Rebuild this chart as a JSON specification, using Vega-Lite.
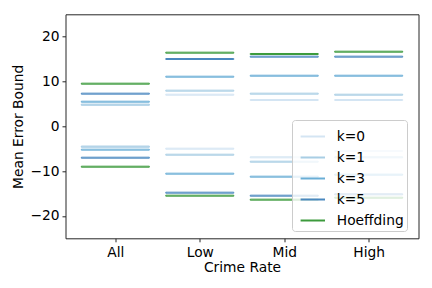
{
  "$schema": "https://vega.github.io/schema/vega-lite/v6.json",
  "width": 353,
  "height": 224,
  "autosize": {"type": "none"},
  "padding": {"left": 65.5, "top": 14.3, "right": 13.5, "bottom": 49.7},
  "config": {
    "font": "DejaVu Sans",
    "view": {"stroke": "#262626", "strokeWidth": 1},
    "axis": {
      "labelFont": "DejaVu Sans", "titleFont": "DejaVu Sans",
      "labelFontSize": 13.8, "titleFontSize": 13.8,
      "labelColor": "#000000", "titleColor": "#000000",
      "titleFontWeight": "normal",
      "tickColor": "#262626", "tickSize": 3.5, "tickWidth": 1,
      "domain": false, "grid": false
    }
  },
  "data": {
    "values": [
      {"cat": "All", "series": "k=0", "bound": "upper", "value": 4.82},
      {"cat": "All", "series": "k=0", "bound": "lower", "value": -4.55},
      {"cat": "Low", "series": "k=0", "bound": "upper", "value": 7.05},
      {"cat": "Low", "series": "k=0", "bound": "lower", "value": -5.0},
      {"cat": "Mid", "series": "k=0", "bound": "upper", "value": 5.87},
      {"cat": "Mid", "series": "k=0", "bound": "lower", "value": -6.92},
      {"cat": "High", "series": "k=0", "bound": "upper", "value": 5.87},
      {"cat": "High", "series": "k=0", "bound": "lower", "value": -5.51},
      {"cat": "All", "series": "k=1", "bound": "upper", "value": 4.82},
      {"cat": "All", "series": "k=1", "bound": "lower", "value": -4.55},
      {"cat": "Low", "series": "k=1", "bound": "upper", "value": 7.95},
      {"cat": "Low", "series": "k=1", "bound": "lower", "value": -6.34},
      {"cat": "Mid", "series": "k=1", "bound": "upper", "value": 7.28},
      {"cat": "Mid", "series": "k=1", "bound": "lower", "value": -7.9},
      {"cat": "High", "series": "k=1", "bound": "upper", "value": 7.05},
      {"cat": "High", "series": "k=1", "bound": "lower", "value": -6.92},
      {"cat": "All", "series": "k=3", "bound": "upper", "value": 5.49},
      {"cat": "All", "series": "k=3", "bound": "lower", "value": -5.22},
      {"cat": "Low", "series": "k=3", "bound": "upper", "value": 11.07},
      {"cat": "Low", "series": "k=3", "bound": "lower", "value": -10.58},
      {"cat": "Mid", "series": "k=3", "bound": "upper", "value": 11.29},
      {"cat": "Mid", "series": "k=3", "bound": "lower", "value": -11.25},
      {"cat": "High", "series": "k=3", "bound": "upper", "value": 11.29},
      {"cat": "High", "series": "k=3", "bound": "lower", "value": -10.8},
      {"cat": "All", "series": "k=5", "bound": "upper", "value": 7.28},
      {"cat": "All", "series": "k=5", "bound": "lower", "value": -7.01},
      {"cat": "Low", "series": "k=5", "bound": "upper", "value": 15.02},
      {"cat": "Low", "series": "k=5", "bound": "lower", "value": -14.82},
      {"cat": "Mid", "series": "k=5", "bound": "upper", "value": 15.54},
      {"cat": "Mid", "series": "k=5", "bound": "lower", "value": -15.49},
      {"cat": "High", "series": "k=5", "bound": "upper", "value": 15.54},
      {"cat": "High", "series": "k=5", "bound": "lower", "value": -15.18},
      {"cat": "All", "series": "Hoeffding", "bound": "upper", "value": 9.51},
      {"cat": "All", "series": "Hoeffding", "bound": "lower", "value": -9.02},
      {"cat": "Low", "series": "Hoeffding", "bound": "upper", "value": 16.43},
      {"cat": "Low", "series": "Hoeffding", "bound": "lower", "value": -15.49},
      {"cat": "Mid", "series": "Hoeffding", "bound": "upper", "value": 16.14},
      {"cat": "Mid", "series": "Hoeffding", "bound": "lower", "value": -16.38},
      {"cat": "High", "series": "Hoeffding", "bound": "upper", "value": 16.65},
      {"cat": "High", "series": "Hoeffding", "bound": "lower", "value": -15.94}
    ]
  },
  "mark": {"type": "tick", "size": 68, "thickness": 1, "filled": false, "strokeWidth": 1, "opacity": 1},
  "encoding": {
    "x": {
      "field": "cat", "type": "nominal", "title": "Crime Rate",
      "sort": ["All", "Low", "Mid", "High"],
      "scale": {"type": "point", "padding": 0.59},
      "axis": {"labelAngle": 0, "labelPadding": 3.5, "titlePadding": 1}
    },
    "y": {
      "field": "value", "type": "quantitative", "title": "Mean Error Bound",
      "scale": {"domain": [-25, 25], "nice": false, "zero": false},
      "axis": {"values": [-20, -10, 0, 10, 20], "labelPadding": 3, "titlePadding": 4,
               "labelExpr": "replace(datum.label, '-', '−')"}
    },
    "color": {
      "field": "series", "type": "nominal",
      "scale": {"domain": ["k=0", "k=1", "k=3", "k=5", "Hoeffding"],
                "range": ["#d4e5f3", "#a9cee4", "#6aaed6", "#4a88bf", "#3c9a3c"]},
      "legend": {
        "title": null, "orient": "none", "legendX": 226.5, "legendY": 105.7,
        "symbolType": "stroke", "symbolStrokeWidth": 2, "symbolSize": 595, "symbolOpacity": 1,
        "symbolOffset": 4.3,
        "labelFont": "DejaVu Sans", "labelFontSize": 13.8, "labelColor": "#000000",
        "labelOffset": 10.5, "padding": 3, "rowPadding": 0,
        "strokeColor": "#cccccc", "fillColor": "rgba(255,255,255,0.8)", "cornerRadius": 3
      }
    }
  }
}
